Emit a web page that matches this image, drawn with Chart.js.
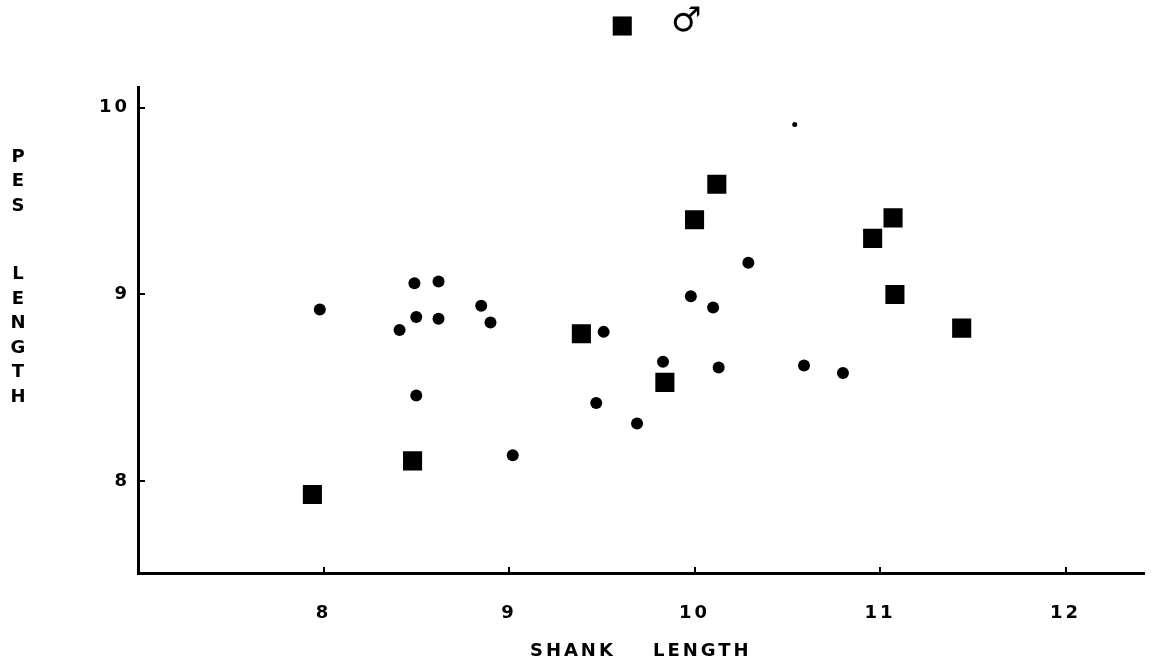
<!DOCTYPE html>
<html>
<head>
<meta charset="utf-8">
<title>Shank length and pes length</title>
<script src="https://cdn.jsdelivr.net/npm/chart.js@4/dist/chart.umd.min.js"></script>
<style>
  html, body { margin: 0; padding: 0; background: #fff; }
  canvas { display: block; }
</style>
</head>
<body>
<canvas id="myChart" width="1157" height="668"></canvas>
<script>
// shank length (x) against pes length (y)
var maleShank = [7.94, 8.48, 9.39, 9.84, 10.00, 10.12, 10.96, 11.07, 11.08, 11.44];
var malePes   = [7.93, 8.11, 8.79, 8.53, 9.40, 9.59, 9.30, 9.41, 9.00, 8.82];

var otherShank = [7.98, 8.49, 8.62, 8.50, 8.62, 8.41, 8.85, 8.90, 8.50, 9.02,
                  9.47, 9.51, 9.69, 9.83, 9.98, 10.10, 10.13, 10.29, 10.59, 10.80];
var otherPes   = [8.92, 9.06, 9.07, 8.88, 8.87, 8.81, 8.94, 8.85, 8.46, 8.14,
                  8.42, 8.80, 8.31, 8.64, 8.99, 8.93, 8.61, 9.17, 8.62, 8.58];

// the little one up near 10
var smallShank = [10.54];
var smallPes   = [9.91];

var xTicks = [8, 9, 10, 11, 12];
var yTicks = [8, 9, 10];
var xTitle = 'SHANK    LENGTH';
var yTitle = ['PES', 'LENGTH'];
var maleLabel = '\u2642';

var ink = '#000';
var face = '"DejaVu Sans", sans-serif';

function toPoints(xs, ys) {
    return xs.map(function (x, i) { return { x: x, y: ys[i] }; });
}

function fixedTicks(list) {
    return function (scale) {
        scale.ticks = list.map(function (v) { return { value: v }; });
    };
}

// stacked y title letters and the key over the plot
var lettering = {
    id: 'lettering',
    beforeDraw: function (chart) {
        chart.ctx.letterSpacing = '3px';
    },
    afterDraw: function (chart) {
        var ctx = chart.ctx;
        var area = chart.chartArea;
        ctx.save();
        ctx.letterSpacing = '0px';
        ctx.fillStyle = ink;
        ctx.textAlign = 'center';
        ctx.textBaseline = 'middle';
        ctx.font = 'bold 18px ' + face;
        var y = area.top + 70;
        yTitle.forEach(function (word) {
            word.split('').forEach(function (ch) {
                ctx.fillText(ch, 18, y);
                y += 24.5;
            });
            y += 44;
        });

        var mid = (area.left + area.right) / 2;
        var male = chart.data.datasets[0];
        Chart.helpers.drawPoint(ctx, { pointStyle: male.pointStyle, radius: male.pointRadius, borderWidth: 0 }, mid - 18.5, 26);
        ctx.font = 'bold 34px ' + face;
        ctx.fillText(maleLabel, mid + 45.5, 22);
        ctx.restore();
    }
};

var ctx = document.getElementById('myChart');
var myChart = new Chart(ctx, {
    type: 'scatter',
    data: {
        datasets: [{
            label: maleLabel,
            data: toPoints(maleShank, malePes),
            pointStyle: 'rect',
            pointRadius: 13.5,
            pointHoverRadius: 13.5,
            backgroundColor: ink,
            borderWidth: 0
        }, {
            label: 'other',
            data: toPoints(otherShank, otherPes),
            pointStyle: 'circle',
            pointRadius: 6,
            pointHoverRadius: 6,
            backgroundColor: ink,
            borderWidth: 0
        }, {
            label: 'small',
            data: toPoints(smallShank, smallPes),
            pointStyle: 'circle',
            pointRadius: 2.5,
            pointHoverRadius: 2.5,
            backgroundColor: ink,
            borderWidth: 0
        }]
    },
    options: {
        responsive: false,
        animation: false,
        layout: { padding: { top: 87, right: 9, left: 0, bottom: 0 } },
        plugins: {
            legend: { display: false },
            tooltip: { enabled: false }
        },
        scales: {
            x: {
                type: 'linear',
                min: 7,
                max: 12.42,
                afterBuildTicks: fixedTicks(xTicks),
                afterFit: function (scale) { scale.height = 95; },
                border: { color: ink, width: 3 },
                grid: {
                    display: true,
                    drawOnChartArea: false,   // only the little tick marks
                    drawTicks: true,
                    tickLength: -6,           // pointing into the plot
                    color: ink,
                    lineWidth: 2
                },
                ticks: { color: ink, font: { family: face, size: 18, weight: 'bold' }, padding: 36, maxRotation: 0 },
                title: {
                    display: true,
                    text: xTitle,
                    color: ink,
                    font: { family: face, size: 18, weight: 'bold' },
                    padding: { top: 0, bottom: 6 }
                }
            },
            y: {
                type: 'linear',
                min: 7.51,
                max: 10.11,
                afterBuildTicks: fixedTicks(yTicks),
                afterFit: function (scale) { scale.width = 138; },
                border: { color: ink, width: 3 },
                grid: {
                    display: true,
                    drawOnChartArea: false,
                    drawTicks: true,
                    tickLength: -7,
                    color: ink,
                    lineWidth: 2
                },
                ticks: { color: ink, font: { family: face, size: 18, weight: 'bold' }, padding: 15 }
            }
        }
    },
    plugins: [lettering]
});
</script>
</body>
</html>
